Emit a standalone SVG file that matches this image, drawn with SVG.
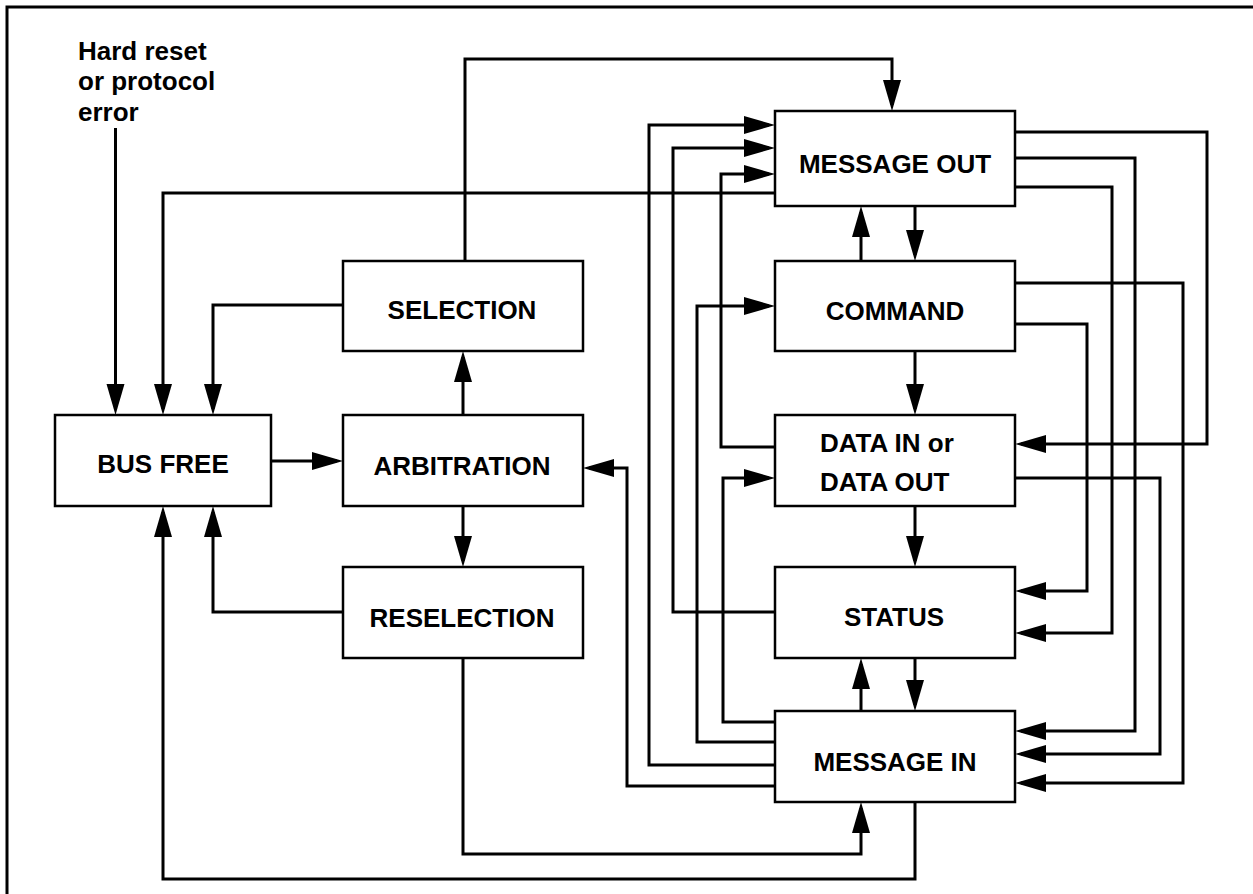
<svg xmlns="http://www.w3.org/2000/svg" width="1253" height="894" viewBox="0 0 1253 894">
<style>
.box{fill:#fff;stroke:#000;stroke-width:2.5}
.lbl{font-family:"Liberation Sans",Arial,sans-serif;font-weight:bold;font-size:26px;fill:#000;text-anchor:middle}
.lft{font-family:"Liberation Sans",Arial,sans-serif;font-weight:bold;font-size:26px;fill:#000}
.c{fill:none;stroke:#000;stroke-width:3;stroke-linejoin:miter;marker-end:url(#ah)}
.frame{fill:none;stroke:#000;stroke-width:3}
</style>
<defs>
<marker id="ah" markerUnits="userSpaceOnUse" viewBox="0 0 31 18" markerWidth="31" markerHeight="18" refX="25" refY="9" orient="auto" overflow="visible">
<path d="M0,0 L31,9 L0,18 z" fill="#000"/>
</marker>
</defs>
<rect width="1253" height="894" fill="#fff"/>
<path class="frame" d="M7,894 V7 H1253"/>
<g id="connectors">
<path class="c" d="M115.5,128 V409"/>
<path class="c" d="M778,193 H163 V409"/>
<path class="c" d="M343,305 H213 V409"/>
<path class="c" d="M465,261 V59 H892 V105"/>
<path class="c" d="M269,461 H337"/>
<path class="c" d="M463,415 V357"/>
<path class="c" d="M463,506 V561"/>
<path class="c" d="M343,612 H213 V512"/>
<path class="c" d="M915,802 V879 H163 V512"/>
<path class="c" d="M463,658 V854 H861 V808"/>
<path class="c" d="M776,786 H627 V468 H589"/>
<path class="c" d="M778,765 H649 V125 H769"/>
<path class="c" d="M778,612 H673 V148 H769"/>
<path class="c" d="M778,447 H721 V174 H769"/>
<path class="c" d="M778,742 H697 V306 H769"/>
<path class="c" d="M778,722 H723 V478 H769"/>
<path class="c" d="M915,206 V255"/>
<path class="c" d="M861,261 V212"/>
<path class="c" d="M915,351 V409"/>
<path class="c" d="M915,506 V561"/>
<path class="c" d="M915,658 V705"/>
<path class="c" d="M861,711 V664"/>
<path class="c" d="M1012,132 H1207 V444 H1021"/>
<path class="c" d="M1012,158 H1135 V731 H1021"/>
<path class="c" d="M1012,187 H1112 V633 H1021"/>
<path class="c" d="M1012,283 H1183 V783 H1021"/>
<path class="c" d="M1012,324 H1087 V591 H1021"/>
<path class="c" d="M1012,478 H1160 V754 H1021"/>
</g>
<g id="hard-reset">
<text class="lft" x="78" y="60">Hard reset</text>
<text class="lft" x="78" y="90">or protocol</text>
<text class="lft" x="78" y="120.5">error</text>
</g>
<g id="bus-free">
<rect class="box" x="55" y="415" width="216" height="91"/>
<text class="lbl" x="163" y="473">BUS FREE</text>
</g>
<g id="arbitration">
<rect class="box" x="343" y="415" width="240" height="91"/>
<text class="lbl" x="462" y="475">ARBITRATION</text>
</g>
<g id="selection">
<rect class="box" x="343" y="261" width="240" height="90"/>
<text class="lbl" x="462" y="319">SELECTION</text>
</g>
<g id="reselection">
<rect class="box" x="343" y="567" width="240" height="91"/>
<text class="lbl" x="462" y="627">RESELECTION</text>
</g>
<g id="message-out">
<rect class="box" x="775" y="111" width="240" height="95"/>
<text class="lbl" x="895" y="173">MESSAGE OUT</text>
</g>
<g id="command">
<rect class="box" x="775" y="261" width="240" height="90"/>
<text class="lbl" x="895" y="320">COMMAND</text>
</g>
<g id="data">
<rect class="box" x="775" y="415" width="240" height="91"/>
<text class="lft" x="820" y="452">DATA IN or</text>
<text class="lft" x="820" y="491">DATA OUT</text>
</g>
<g id="status">
<rect class="box" x="775" y="567" width="240" height="91"/>
<text class="lbl" x="894" y="626">STATUS</text>
</g>
<g id="message-in">
<rect class="box" x="775" y="711" width="240" height="91"/>
<text class="lbl" x="895" y="771">MESSAGE IN</text>
</g>
</svg>
